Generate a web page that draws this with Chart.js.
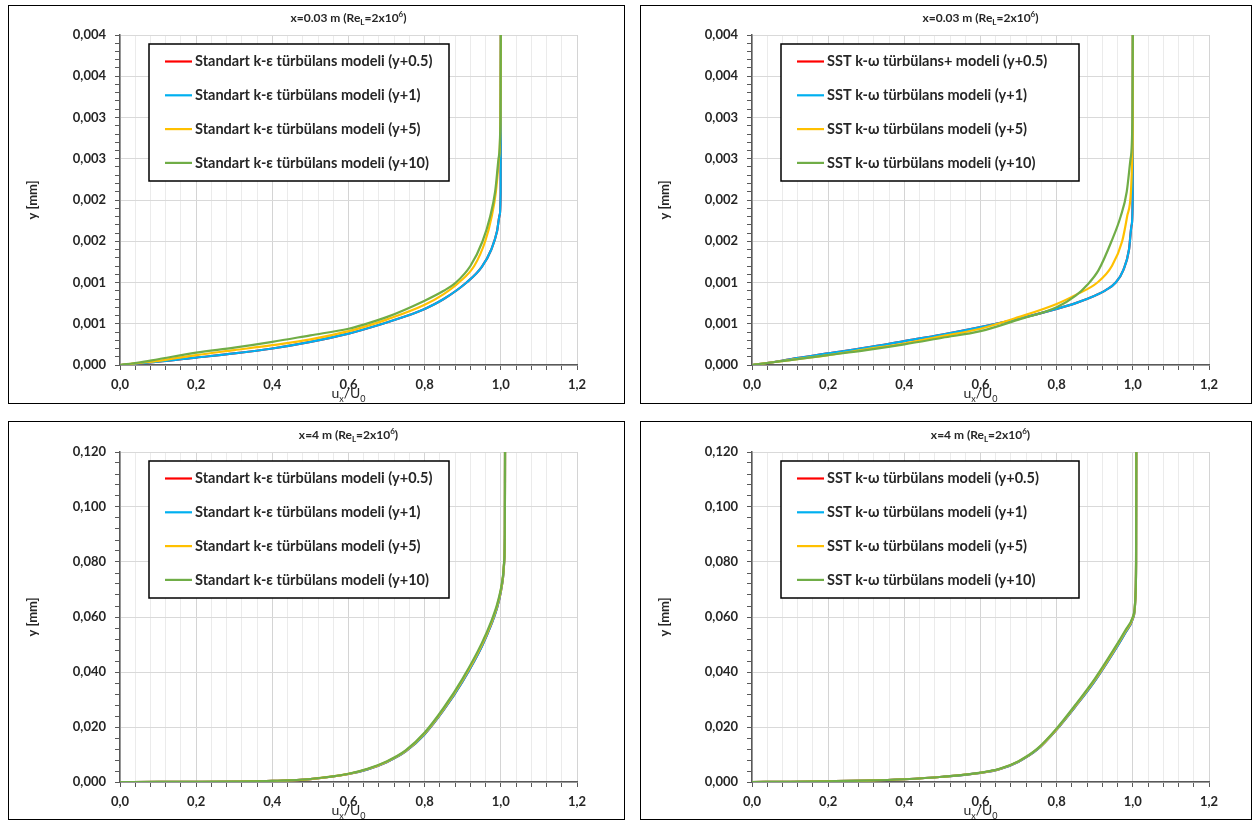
<!DOCTYPE html>
<html>
<head>
<meta charset="utf-8">
<script src="https://cdn.jsdelivr.net/npm/chart.js@4.4.1/dist/chart.umd.min.js"></script>
<style>
body { margin: 0; background: #fff; }
.panel { position: absolute; border: 1px solid #000; box-sizing: border-box; background: #fff; }
.panel canvas { display: block; }
</style>
</head>
<body>
<div class="panel" style="left:8px;top:5px;width:617px;height:399px"><canvas id="c1" width="615" height="397"></canvas></div>
<div class="panel" style="left:640px;top:5px;width:612px;height:399px"><canvas id="c2" width="610" height="397"></canvas></div>
<div class="panel" style="left:8px;top:421px;width:617px;height:399px"><canvas id="c3" width="615" height="397"></canvas></div>
<div class="panel" style="left:640px;top:421px;width:612px;height:399px"><canvas id="c4" width="610" height="397"></canvas></div>
<script>
// series colours: y+0.5, y+1, y+5, y+10
const colors = ['#ff0000', '#00b0f0', '#ffc000', '#70ad47'];

const keLabels = [
    'Standart k-ε türbülans modeli (y+0.5)',
    'Standart k-ε türbülans modeli (y+1)',
    'Standart k-ε türbülans modeli (y+5)',
    'Standart k-ε türbülans modeli (y+10)'
];
const sstLabelsTop = [
    'SST k-ω türbülans+ modeli (y+0.5)',
    'SST k-ω türbülans modeli (y+1)',
    'SST k-ω türbülans modeli (y+5)',
    'SST k-ω türbülans modeli (y+10)'
];
const sstLabels = [
    'SST k-ω türbülans modeli (y+0.5)',
    'SST k-ω türbülans modeli (y+1)',
    'SST k-ω türbülans modeli (y+5)',
    'SST k-ω türbülans modeli (y+10)'
];

// x = 0.03 m, standard k-e  [ux/U0, y]
const ke03_05 = [[0,0],[0.05,0.00002],[0.1,0.00004],[0.2,0.00009],[0.3,0.00014],[0.4,0.0002],[0.5,0.00028],[0.6,0.00038],[0.69,0.0005],[0.75,0.00059],[0.8,0.00068],[0.85,0.0008],[0.91,0.001],[0.95,0.00119],[0.975,0.0014],[0.99,0.00162],[0.997,0.00182],[0.9995,0.0021],[1.0,0.004]];
const ke03_1 = [[0,0],[0.05,0.00002],[0.1,0.00004],[0.2,0.00009],[0.3,0.00014],[0.4,0.0002],[0.5,0.00028],[0.6,0.00038],[0.69,0.0005],[0.75,0.00059],[0.8,0.00068],[0.85,0.0008],[0.91,0.001],[0.95,0.00119],[0.975,0.0014],[0.99,0.00162],[0.997,0.00182],[0.9995,0.0021],[1.0,0.004]];
const ke03_5 = [[0,0],[0.05,0.000025],[0.1,0.00005],[0.2,0.00012],[0.3,0.00018],[0.4,0.00024],[0.5,0.00031],[0.6,0.00041],[0.66,0.00049],[0.7,0.00055],[0.8,0.00073],[0.85,0.00086],[0.89,0.001],[0.93,0.0012],[0.959,0.0015],[0.976,0.0018],[0.987,0.0021],[0.995,0.0025],[0.999,0.003],[1.0,0.004]];
const ke03_10 = [[0,0],[0.05,0.00003],[0.1,0.00007],[0.2,0.00015],[0.3,0.00021],[0.4,0.00028],[0.5,0.00036],[0.6,0.00044],[0.64,0.00049],[0.7,0.00058],[0.8,0.00078],[0.85,0.0009],[0.882,0.001],[0.92,0.0012],[0.952,0.0015],[0.972,0.0018],[0.985,0.0021],[0.994,0.0025],[0.999,0.003],[1.0,0.004]];

// x = 0.03 m, SST k-w
const sst03_05 = [[0,0],[0.05,0.00003],[0.1,0.00007],[0.2,0.00014],[0.3,0.00021],[0.4,0.00029],[0.5,0.00037],[0.6,0.00046],[0.7,0.00056],[0.8,0.00068],[0.85,0.00075],[0.9,0.00084],[0.93,0.00091],[0.955,0.001],[0.975,0.00115],[0.99,0.0014],[0.997,0.0017],[0.9995,0.002],[1.0,0.004]];
const sst03_1 = [[0,0],[0.05,0.00003],[0.1,0.00007],[0.2,0.00014],[0.3,0.00021],[0.4,0.00029],[0.5,0.00037],[0.6,0.00046],[0.7,0.00056],[0.8,0.00068],[0.85,0.00075],[0.9,0.00084],[0.93,0.00091],[0.955,0.001],[0.975,0.00115],[0.99,0.0014],[0.997,0.0017],[0.9995,0.002],[1.0,0.004]];
const sst03_5 = [[0,0],[0.05,0.00003],[0.1,0.00006],[0.2,0.00012],[0.3,0.00019],[0.4,0.00026],[0.5,0.00035],[0.6,0.00044],[0.7,0.00058],[0.8,0.00074],[0.85,0.00085],[0.907,0.001],[0.945,0.0012],[0.972,0.0015],[0.985,0.0018],[0.995,0.0021],[0.999,0.0026],[0.9998,0.003],[1.0,0.004]];
const sst03_10 = [[0,0],[0.05,0.00003],[0.1,0.00006],[0.2,0.00012],[0.3,0.00018],[0.4,0.00025],[0.5,0.00033],[0.6,0.00041],[0.7,0.00055],[0.8,0.0007],[0.85,0.00084],[0.88,0.00097],[0.91,0.00115],[0.944,0.0015],[0.968,0.0018],[0.984,0.0021],[0.994,0.0025],[0.999,0.003],[1.0,0.004]];

// x = 4 m, standard k-e
const ke4_05 = [[0,0],[0.1,0.00001],[0.2,0.00005],[0.3,0.00014],[0.4,0.00038],[0.5,0.00105],[0.6,0.0029],[0.65,0.0046],[0.7,0.0072],[0.75,0.0111],[0.8,0.0174],[0.85,0.0262],[0.9,0.0367],[0.95,0.0493],[0.975,0.0573],[0.99,0.0633],[1.0,0.0692],[1.006,0.0747],[1.009,0.0804],[1.0105,0.09],[1.011,0.12]];
const ke4_1 = [[0,0],[0.1,0.00001],[0.2,0.00005],[0.3,0.00014],[0.4,0.00038],[0.5,0.00105],[0.6,0.0029],[0.65,0.0046],[0.7,0.0072],[0.75,0.0111],[0.8,0.0174],[0.85,0.0262],[0.9,0.0367],[0.95,0.0493],[0.975,0.0573],[0.99,0.0633],[1.0,0.0692],[1.006,0.0747],[1.009,0.0804],[1.0105,0.09],[1.011,0.12]];
const ke4_5 = [[0,0],[0.1,0.00001],[0.2,0.00005],[0.3,0.00014],[0.4,0.00039],[0.5,0.00108],[0.6,0.00295],[0.65,0.0047],[0.7,0.0074],[0.75,0.0113],[0.8,0.0177],[0.85,0.0266],[0.9,0.0372],[0.95,0.0499],[0.975,0.0579],[0.99,0.0639],[1.0,0.0697],[1.006,0.0751],[1.009,0.0807],[1.0105,0.09],[1.011,0.12]];
const ke4_10 = [[0,0],[0.1,0.00001],[0.2,0.00005],[0.3,0.00015],[0.4,0.0004],[0.5,0.0011],[0.6,0.003],[0.65,0.0048],[0.7,0.0075],[0.75,0.0115],[0.8,0.018],[0.85,0.027],[0.9,0.0377],[0.95,0.0505],[0.975,0.0585],[0.99,0.0645],[1.0,0.0702],[1.006,0.0755],[1.009,0.081],[1.0105,0.09],[1.011,0.12]];

// x = 4 m, SST k-w
const sst4_05 = [[0,0],[0.1,0.00008],[0.2,0.00025],[0.3,0.0005],[0.4,0.001],[0.5,0.0019],[0.6,0.00333],[0.65,0.0047],[0.7,0.0074],[0.75,0.0119],[0.8,0.0191],[0.85,0.0276],[0.9,0.0367],[0.95,0.0473],[0.98,0.0542],[1.0,0.0594],[1.005,0.0628],[1.007,0.068],[1.0085,0.08],[1.009,0.12]];
const sst4_1 = [[0,0],[0.1,0.00008],[0.2,0.00025],[0.3,0.0005],[0.4,0.001],[0.5,0.0019],[0.6,0.00333],[0.65,0.0047],[0.7,0.0074],[0.75,0.0119],[0.8,0.0191],[0.85,0.0276],[0.9,0.0367],[0.95,0.0473],[0.98,0.0542],[1.0,0.0594],[1.005,0.0628],[1.007,0.068],[1.0085,0.08],[1.009,0.12]];
const sst4_5 = [[0,0],[0.1,0.00008],[0.2,0.00025],[0.3,0.0005],[0.4,0.001],[0.5,0.0019],[0.6,0.00337],[0.65,0.00475],[0.7,0.0075],[0.75,0.0121],[0.8,0.0193],[0.85,0.0279],[0.9,0.0371],[0.95,0.0478],[0.98,0.0547],[1.0,0.0598],[1.005,0.063],[1.007,0.068],[1.0085,0.08],[1.009,0.12]];
const sst4_10 = [[0,0],[0.1,0.00008],[0.2,0.00025],[0.3,0.0005],[0.4,0.001],[0.5,0.0019],[0.6,0.0034],[0.65,0.0048],[0.7,0.0076],[0.75,0.0122],[0.8,0.0195],[0.85,0.0282],[0.9,0.0375],[0.95,0.0482],[0.98,0.0551],[1.0,0.0601],[1.005,0.0632],[1.007,0.068],[1.0085,0.08],[1.009,0.12]];

const FONT = 'Lato, "Open Sans", sans-serif';
const TEXT = '#262626';

// draws text pieces with sub/superscripts, centred at x
function drawRich(ctx, parts, x, y, size, weight) {
    const fontFor = p => `${weight} ${p.s ? Math.round(size * 0.65) : size}px ${FONT}`;
    let total = 0;
    parts.forEach(p => { ctx.font = fontFor(p); total += ctx.measureText(p.t).width; });
    let cx = x - total / 2;
    ctx.textAlign = 'left';
    ctx.textBaseline = 'alphabetic';
    parts.forEach(p => {
        ctx.font = fontFor(p);
        let dy = 0;
        if (p.s === 'sub') dy = size * 0.25;
        if (p.s === 'sup') dy = -size * 0.4;
        ctx.fillText(p.t, cx, y + dy);
        cx += ctx.measureText(p.t).width;
    });
}

const decorPlugin = {
    id: 'decor',
    afterDraw(chart) {
        const o = chart.options.plugins.decor;
        const ctx = chart.ctx;
        const a = chart.chartArea;
        const mid = (a.left + a.right) / 2;
        ctx.save();
        ctx.fillStyle = TEXT;
        drawRich(ctx, o.title, mid, a.top - 13, 12, 'bold');
        drawRich(ctx, [{ t: 'u' }, { t: 'x', s: 'sub' }, { t: '/U' }, { t: '0', s: 'sub' }], mid, a.bottom + 33, 14, 'normal');

        ctx.save();
        ctx.translate(24, (a.top + a.bottom) / 2);
        ctx.rotate(-Math.PI / 2);
        ctx.font = `bold 13px ${FONT}`;
        ctx.textAlign = 'center';
        ctx.textBaseline = 'middle';
        ctx.fillText('y [mm]', 0, 0);
        ctx.restore();

        // legend box
        const bx = a.left + 29, by = a.top + 9;
        ctx.fillStyle = '#fff';
        ctx.fillRect(bx, by, o.boxWidth, 137);
        ctx.strokeStyle = '#000';
        ctx.lineWidth = 1.5;
        ctx.strokeRect(bx, by, o.boxWidth, 137);
        ctx.font = `bold 14.5px ${FONT}`;
        ctx.textAlign = 'left';
        ctx.textBaseline = 'middle';
        chart.data.datasets.forEach((ds, i) => {
            const ly = by + 17.5 + i * 33.8;
            ctx.strokeStyle = ds.borderColor;
            ctx.lineWidth = 2.2;
            ctx.beginPath();
            ctx.moveTo(bx + 16, ly);
            ctx.lineTo(bx + 43, ly);
            ctx.stroke();
            ctx.fillStyle = TEXT;
            ctx.fillText(ds.label, bx + 46, ly);
        });
        ctx.restore();
    }
};

function yLabel(v) {
    const n = Math.round(v * 10000);
    const th = Math.floor((n + 5) / 10);
    return (th / 1000).toFixed(3).replace('.', ',');
}

function makeChart(id, opts) {
    const xMinor = 0.04;
    const datasets = opts.series.map((s, i) => ({
        label: opts.labels[i],
        data: s.map(p => ({ x: p[0], y: p[1] })),
        borderColor: colors[i],
        backgroundColor: colors[i],
        borderWidth: 2.2,
        pointRadius: 0,
        showLine: true,
        cubicInterpolationMode: 'monotone',
        order: 4 - i
    }));

    return new Chart(document.getElementById(id), {
        type: 'scatter',
        data: { datasets },
        options: {
            responsive: false,
            animation: false,
            events: [],
            layout: { padding: { top: opts.top, right: opts.right, left: 0, bottom: 0 } },
            plugins: {
                legend: { display: false },
                tooltip: { enabled: false },
                decor: { title: opts.title, boxWidth: opts.boxWidth }
            },
            scales: {
                x: {
                    type: 'linear',
                    min: 0,
                    max: 1.2,
                    afterBuildTicks: scale => {
                        scale.ticks = [];
                        for (let i = 0; i <= 30; i++) scale.ticks.push({ value: i * xMinor });
                    },
                    afterFit: scale => { scale.height = opts.bottom; },
                    border: { color: '#595959', width: 1.5 },
                    grid: {
                        color: c => (Math.round(c.tick.value / xMinor) % 5 === 0 ? '#d4d4d4' : '#ebebeb'),
                        tickColor: '#595959',
                        tickLength: 5,
                        lineWidth: 1
                    },
                    ticks: {
                        autoSkip: false,
                        maxRotation: 0,
                        padding: 7,
                        color: TEXT,
                        font: { family: FONT, size: 13, weight: 'bold' },
                        callback: v => (Math.round(v / xMinor) % 5 === 0 ? v.toFixed(1).replace('.', ',') : '')
                    }
                },
                y: {
                    type: 'linear',
                    min: 0,
                    max: opts.yMax,
                    afterBuildTicks: scale => {
                        scale.ticks = [];
                        const n = Math.round(opts.yMax / opts.yMinor);
                        for (let i = 0; i <= n; i++) scale.ticks.push({ value: i * opts.yMinor });
                    },
                    afterFit: scale => { scale.width = 111; },
                    border: { color: '#595959', width: 1.5 },
                    grid: {
                        color: c => (Math.round(c.tick.value / opts.yMinor) % 5 === 0 ? '#d9d9d9' : 'rgba(0,0,0,0)'),
                        tickColor: '#595959',
                        tickLength: 5,
                        lineWidth: 1
                    },
                    ticks: {
                        autoSkip: false,
                        padding: 9,
                        color: TEXT,
                        font: { family: FONT, size: 13, weight: 'bold' },
                        callback: v => (Math.round(v / opts.yMinor) % 5 === 0 ? yLabel(v) : '')
                    }
                }
            }
        },
        plugins: [decorPlugin]
    });
}

const title03 = [{ t: 'x=0.03 m (Re' }, { t: 'L', s: 'sub' }, { t: '=2x10' }, { t: '6', s: 'sup' }, { t: ')' }];
const title4 = [{ t: 'x=4 m (Re' }, { t: 'L', s: 'sub' }, { t: '=2x10' }, { t: '6', s: 'sup' }, { t: ')' }];

makeChart('c1', { series: [ke03_05, ke03_1, ke03_5, ke03_10], labels: keLabels, title: title03, yMax: 0.004, yMinor: 0.0001, top: 29, right: 47, bottom: 38, boxWidth: 300 });
makeChart('c2', { series: [sst03_05, sst03_1, sst03_5, sst03_10], labels: sstLabelsTop, title: title03, yMax: 0.004, yMinor: 0.0001, top: 29, right: 42, bottom: 38, boxWidth: 298 });
makeChart('c3', { series: [ke4_05, ke4_1, ke4_5, ke4_10], labels: keLabels, title: title4, yMax: 0.12, yMinor: 0.004, top: 30, right: 47, bottom: 37, boxWidth: 300 });
makeChart('c4', { series: [sst4_05, sst4_1, sst4_5, sst4_10], labels: sstLabels, title: title4, yMax: 0.12, yMinor: 0.004, top: 30, right: 42, bottom: 37, boxWidth: 298 });
</script>
</body>
</html>
